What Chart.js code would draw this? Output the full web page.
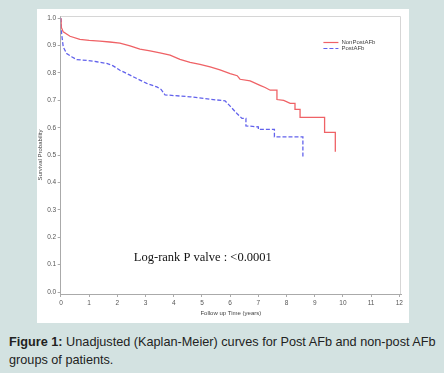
<!DOCTYPE html>
<html>
<head>
<meta charset="utf-8">
<script src="https://cdn.jsdelivr.net/npm/chart.js@4.4.1/dist/chart.umd.min.js"></script>
<style>
html, body { margin: 0; padding: 0; }
body {
    width: 444px; height: 373px; overflow: hidden; position: relative;
    background: #d3e2e1;
    font-family: "Liberation Sans", Arial, sans-serif;
}
#panel { position: absolute; left: 37px; top: 9px; width: 372px; height: 314px; background: #fff; }
#panel canvas { position: absolute; left: 0; top: 0; }
#caption {
    position: absolute; left: 9px; top: 333px; width: 435px;
    font-size: 12.7px; line-height: 18px; color: #222;
}
</style>
</head>
<body>
<div id="panel"><canvas id="km" width="372" height="314"></canvas></div>
<div id="caption"><b>Figure 1:</b> Unadjusted (Kaplan-Meier) curves for Post AFb and non-post AFb groups of patients.</div>

<script>
// series labels
const seriesNames = ['NonPostAFb', 'PostAFb'];

// NonPostAFb curve vertices: follow up time (years) and survival probability
// (repeated times are the visible vertical drops)
const nonPostTime = [0, 0.01, 0.08, 0.32, 0.67, 1.0, 1.38, 1.73, 2.09, 2.45, 2.8, 3.16, 3.51, 3.87, 4.22, 4.58,
    4.93, 5.29, 5.64, 6.0, 6.25, 6.35, 6.71, 7.06, 7.24, 7.42, 7.66, 7.66, 7.9, 8.13, 8.3, 8.3, 8.48, 8.48,
    9.35, 9.35, 9.73, 9.73];
const nonPostSurv = [1.0, 0.967, 0.95, 0.934, 0.923, 0.919, 0.916, 0.913, 0.909, 0.899, 0.887, 0.881, 0.873, 0.865, 0.850, 0.839,
    0.831, 0.822, 0.811, 0.798, 0.79, 0.777, 0.771, 0.755, 0.747, 0.737, 0.737, 0.703, 0.70, 0.689, 0.689, 0.667, 0.667, 0.638,
    0.638, 0.583, 0.583, 0.512];

// PostAFb curve vertices
const postTime = [0, 0.02, 0.08, 0.2, 0.38, 0.56, 0.91, 1.27, 1.62, 1.85, 2.09, 2.45, 2.8, 3.04, 3.4, 3.55, 3.69,
    4.58, 5.4, 5.82, 6.0, 6.24, 6.42, 6.56, 6.56, 7.0, 7.0, 7.57, 7.57, 8.58, 8.58];
const postSurv = [1.0, 0.945, 0.895, 0.871, 0.859, 0.849, 0.846, 0.841, 0.835, 0.826, 0.81, 0.792, 0.774, 0.762, 0.749, 0.74, 0.72,
    0.713, 0.703, 0.698, 0.679, 0.652, 0.634, 0.634, 0.607, 0.603, 0.594, 0.594, 0.567, 0.567, 0.494];

// tick labels
const xTicks = [0, 1, 2, 3, 4, 5, 6, 7, 8, 9, 10, 11, 12];
const yTicks = [0, 0.1, 0.2, 0.3, 0.4, 0.5, 0.6, 0.7, 0.8, 0.9, 1.0];

const pValueText = 'Log-rank P valve : <0.0001';

const RED = '#ef6266';
const BLUE = '#6262ec';

function toPoints(xs, ys) {
    return xs.map((x, i) => ({ x, y: ys[i] }));
}

// light frame on top / right of the plot, like the SAS output
const framePlugin = {
    id: 'frame',
    beforeDatasetsDraw(chart) {
        const { ctx, chartArea: a } = chart;
        ctx.save();
        ctx.strokeStyle = '#d6d6d6';
        ctx.lineWidth = 1;
        ctx.beginPath();
        ctx.moveTo(a.left, a.top + 0.5);
        ctx.lineTo(a.right - 0.5, a.top + 0.5);
        ctx.lineTo(a.right - 0.5, a.bottom);
        ctx.stroke();
        ctx.restore();
    }
};

// inside legend + log-rank note
const notesPlugin = {
    id: 'notes',
    afterDatasetsDraw(chart) {
        const { ctx, chartArea: a } = chart;
        const w = a.right - a.left, h = a.bottom - a.top;
        ctx.save();
        const lx = a.left + w * 0.772;
        const ly = a.top + h * 0.094;
        chart.data.datasets.forEach((ds, i) => {
            const y = Math.round(ly + i * 6) + 0.5;
            ctx.strokeStyle = ds.borderColor;
            ctx.lineWidth = 1.2;
            ctx.setLineDash(ds.borderDash || []);
            ctx.beginPath();
            ctx.moveTo(lx, y);
            ctx.lineTo(lx + 15, y);
            ctx.stroke();
            ctx.setLineDash([]);
            ctx.fillStyle = '#444';
            ctx.font = '6px "Liberation Sans", Arial, sans-serif';
            ctx.textBaseline = 'middle';
            ctx.fillText(ds.label, lx + 18, y);
        });
        ctx.fillStyle = '#111';
        ctx.font = '12.5px "Liberation Serif", "Times New Roman", serif';
        ctx.textBaseline = 'middle';
        ctx.fillText(pValueText, a.left + w * 0.215, a.top + h * 0.87);
        ctx.restore();
    }
};

new Chart(document.getElementById('km'), {
    type: 'line',
    data: {
        datasets: [
            {
                label: seriesNames[0],
                data: toPoints(nonPostTime, nonPostSurv),
                borderColor: RED,
                borderWidth: 1.3,
                tension: 0,
                pointRadius: 0,
                fill: false
            },
            {
                label: seriesNames[1],
                data: toPoints(postTime, postSurv),
                borderColor: BLUE,
                borderWidth: 1.3,
                borderDash: [4, 2],
                tension: 0,
                pointRadius: 0,
                fill: false
            }
        ]
    },
    options: {
        responsive: false,
        animation: false,
        layout: { padding: { top: 7, right: 8, left: 0, bottom: 0 } },
        plugins: {
            legend: { display: false },
            tooltip: { enabled: false }
        },
        scales: {
            x: {
                type: 'linear',
                min: -0.01,
                max: 12.06,
                afterFit: s => { s.height = 29; },
                afterBuildTicks: s => { s.ticks = xTicks.map(v => ({ value: v })); },
                grid: { drawOnChartArea: false, tickLength: 3, color: '#aaa' },
                border: { color: '#aaa' },
                ticks: {
                    padding: 2,
                    color: '#555',
                    font: { size: 6.5, family: '"Liberation Sans", Arial, sans-serif' },
                    maxRotation: 0,
                    callback: v => String(v)
                },
                title: {
                    display: true,
                    text: 'Follow up Time (years)',
                    color: '#444',
                    font: { size: 6, family: '"Liberation Sans", Arial, sans-serif' },
                    padding: { top: 0, bottom: 6 }
                }
            },
            y: {
                type: 'linear',
                min: -0.007,
                max: 1.008,
                afterFit: s => { s.width = 23.7; },
                afterBuildTicks: s => { s.ticks = yTicks.map(v => ({ value: v })); },
                grid: { drawOnChartArea: false, tickLength: 3, color: '#aaa' },
                border: { color: '#aaa' },
                ticks: {
                    padding: 1.5,
                    color: '#555',
                    font: { size: 6.5, family: '"Liberation Sans", Arial, sans-serif' },
                    callback: v => v.toFixed(1)
                },
                title: {
                    display: true,
                    text: 'Survival Probability',
                    color: '#444',
                    font: { size: 6, family: '"Liberation Sans", Arial, sans-serif' },
                    padding: 0
                }
            }
        }
    },
    plugins: [framePlugin, notesPlugin]
});
</script>
</body>
</html>
